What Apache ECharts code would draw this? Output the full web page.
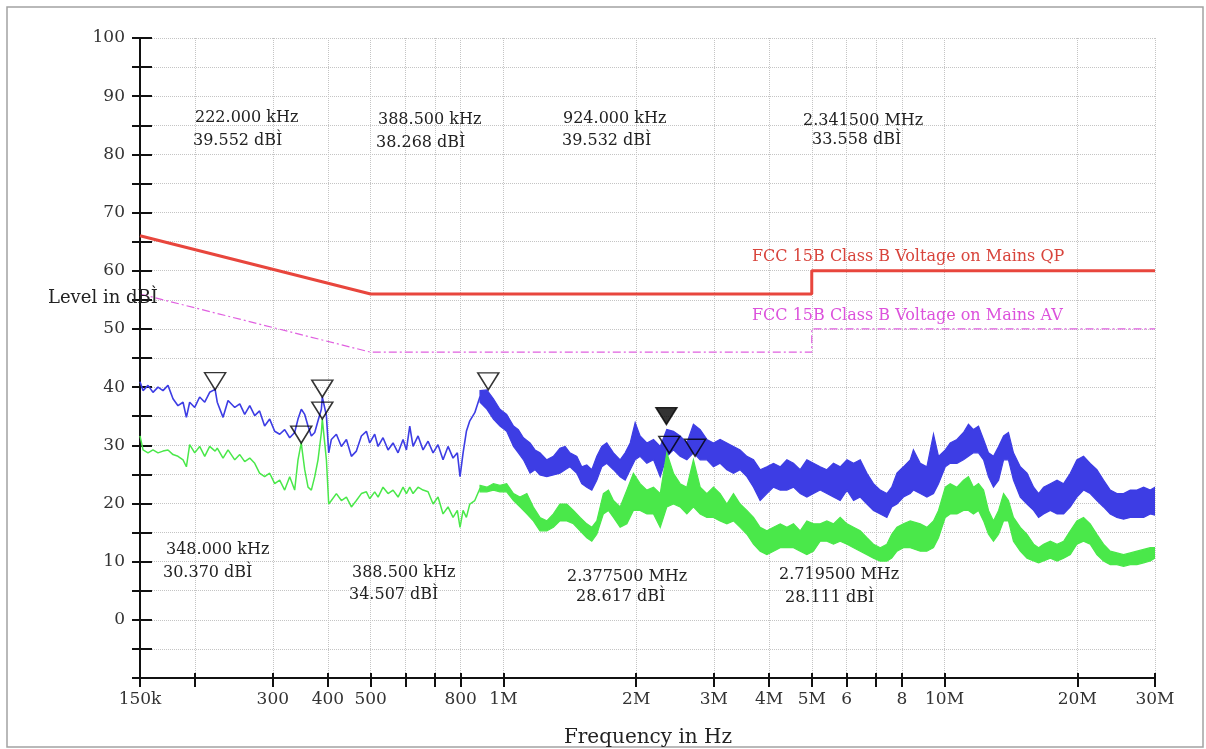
<!DOCTYPE html>
<html><head><meta charset="utf-8">
<script src="https://cdn.jsdelivr.net/npm/echarts@6/dist/echarts.min.js"></script>
<style>html,body{margin:0;padding:0;background:#fff}#c{width:1206px;height:749px}</style>
</head><body><div id="c"></div>
<script>
// ---------- axis ticks ----------
const xTickVals = [0.15,0.2,0.3,0.4,0.5,0.6,0.7,0.8,1,2,3,4,5,6,7,8,10,20,30];
const xLabelVals = [0.15,0.3,0.4,0.5,0.8,1,2,3,4,5,6,8,10,20,30];
const xLabelText = ['150k','300','400','500','800','1M','2M','3M','4M','5M','6','8','10M','20M','30M'];

// ---------- limit lines (frequency in MHz, level in dB) ----------
const qpF = [0.15,0.5,5,5,30];
const qpV = [66,56,56,60,60];
const avF = [0.15,0.5,5,5,30];
const avV = [56,46,46,50,50];

// ---------- blue trace (peak), low-frequency part ----------
const blueLineF = [0.150,0.1524,0.1564,0.1605,0.1648,0.1691,0.1736,0.1782,0.1829,0.1878,0.1911,0.1944,0.1996,0.2048,0.2103,0.2158,0.2220,0.2245,0.2314,0.2375,0.2460,0.2525,0.2591,0.2660,0.2730,0.2800,0.2875,0.2952,0.3030,0.3110,0.3192,0.3277,0.3363,0.3422,0.3482,0.3544,0.3606,0.3669,0.3734,0.3799,0.3866,0.3885,0.3969,0.4017,0.4073,0.4181,0.4292,0.4406,0.4522,0.4641,0.4764,0.4890,0.4976,0.5107,0.5198,0.5334,0.5476,0.5620,0.5769,0.5922,0.6026,0.6132,0.6239,0.6404,0.6573,0.6748,0.6926,0.7108,0.7296,0.7489,0.7688,0.7862,0.7973,0.8101,0.8242,0.8390,0.8611,0.8850];
const blueLineV = [40.9,39.4,40.3,39.1,40.0,39.4,40.3,38.0,36.8,37.4,34.8,37.4,36.5,38.3,37.4,39.1,39.6,37.4,34.8,37.7,36.5,37.1,35.3,36.8,35.1,35.9,33.3,34.5,32.4,31.9,32.7,31.3,32.2,34.5,36.2,35.3,33.3,31.6,32.2,34.2,36.2,38.3,35.1,28.7,31.0,31.9,29.8,31.0,28.1,29.0,31.6,32.4,30.4,31.9,29.8,31.3,29.2,30.4,28.7,31.0,29.2,33.3,29.8,31.6,29.2,30.7,28.7,30.1,27.5,29.8,27.8,28.7,24.6,28.7,32.4,34.2,35.6,38.4];

// ---------- blue trace, high-frequency part (upper / lower edge of the noise band) ----------
const blueBandF = [0.885,0.917,0.949,0.982,1.017,1.054,1.081,1.110,1.149,1.179,1.210,1.254,1.298,1.343,1.380,1.415,1.467,1.505,1.545,1.586,1.628,1.671,1.715,1.776,1.839,1.888,1.938,1.989,2.041,2.114,2.189,2.267,2.346,2.429,2.515,2.605,2.696,2.793,2.892,2.993,3.099,3.210,3.323,3.441,3.564,3.689,3.819,3.956,4.095,4.241,4.391,4.545,4.707,4.874,5.046,5.225,5.41,5.60,5.80,6.01,6.22,6.44,6.67,6.90,7.15,7.40,7.59,7.80,8.07,8.36,8.50,8.81,9.12,9.44,9.69,10.04,10.30,10.67,11.04,11.33,11.63,11.94,12.26,12.58,12.91,13.26,13.61,13.96,14.33,14.85,15.38,15.92,16.34,16.77,17.37,17.99,18.62,19.28,19.95,20.66,21.39,22.15,22.93,23.75,24.59,25.46,26.37,27.30,28.27,29.27,30.0];
const blueBandHi = [39.4,39.5,38.0,36.2,35.3,33.3,32.7,31.3,30.4,29.2,28.7,27.5,28.1,29.5,29.8,28.7,28.1,26.3,26.6,25.8,28.1,29.8,30.4,28.7,27.5,28.7,30.4,33.9,31.6,30.4,31.0,29.8,32.7,32.4,31.6,30.4,33.6,32.7,31.0,30.4,31.0,30.4,29.8,29.2,28.1,27.5,25.8,26.3,26.9,26.3,27.5,26.9,25.8,27.5,26.9,26.3,25.8,26.9,26.3,27.5,26.9,27.5,25.2,23.4,22.3,21.7,22.8,25.2,26.3,27.5,29.2,26.9,26.3,31.9,28.1,29.2,30.4,31.0,32.2,33.6,32.7,33.3,31.0,28.7,28.1,29.8,31.6,32.2,28.7,26.3,25.2,22.8,21.7,22.8,23.4,24.0,23.4,25.2,27.5,28.1,26.9,25.8,24.0,22.3,21.7,21.7,22.3,22.3,22.8,22.3,22.8];
const blueBandLo = [37.4,36.2,34.5,33.3,32.4,29.8,28.7,27.5,25.2,25.8,24.9,24.6,24.9,25.2,25.8,26.3,25.2,23.4,22.8,22.3,24.0,26.3,26.9,25.8,24.6,24.0,25.8,27.5,28.1,26.9,27.5,24.6,28.1,29.2,28.1,27.5,28.7,27.5,27.5,26.3,26.9,25.8,25.2,25.8,24.6,22.8,20.5,21.7,22.8,22.3,22.3,22.8,21.7,21.1,21.7,22.3,21.7,21.1,20.5,22.3,20.5,21.1,19.9,18.8,18.2,17.6,19.4,19.9,21.1,21.7,22.3,21.7,21.1,21.7,23.4,26.3,26.9,26.9,27.5,28.1,28.7,28.7,27.5,24.6,22.8,24.0,27.5,27.5,24.0,21.1,19.9,18.8,17.6,18.2,18.8,18.2,18.2,19.4,21.1,22.3,21.7,20.5,19.4,18.2,17.6,17.3,17.6,17.6,17.6,18.2,18.0];

// ---------- green trace (average), low-frequency part ----------
const greenLineF = [0.150,0.1524,0.1564,0.1605,0.1648,0.1691,0.1736,0.1782,0.1829,0.1878,0.1911,0.1944,0.1996,0.2048,0.2103,0.2158,0.2220,0.2245,0.2314,0.2375,0.2460,0.2525,0.2591,0.2660,0.2730,0.2800,0.2875,0.2952,0.3030,0.3110,0.3192,0.3277,0.3363,0.3422,0.3480,0.3544,0.3606,0.3669,0.3734,0.3799,0.3866,0.3885,0.3969,0.4017,0.4073,0.4181,0.4292,0.4406,0.4522,0.4641,0.4764,0.4890,0.4976,0.5107,0.5198,0.5334,0.5476,0.5620,0.5769,0.5922,0.6026,0.6132,0.6239,0.6404,0.6573,0.6748,0.6926,0.7108,0.7296,0.7489,0.7688,0.7862,0.7973,0.8101,0.8242,0.8390,0.8611,0.8850];
const greenLineV = [31.6,29.2,28.7,29.2,28.7,29.0,29.2,28.4,28.1,27.5,26.3,30.1,28.7,29.8,28.1,29.8,29.0,29.5,27.8,29.2,27.5,28.4,27.2,27.8,26.9,25.2,24.6,25.2,23.4,24.0,22.3,24.6,22.3,27.5,30.4,25.8,22.8,22.3,24.6,27.5,32.2,34.5,27.5,19.9,20.5,21.7,20.5,21.1,19.4,20.5,21.7,22.0,20.8,22.0,21.1,22.8,21.7,22.3,21.1,22.8,21.7,22.8,21.7,22.8,22.3,22.0,19.9,21.1,18.2,19.4,17.6,18.8,15.9,18.8,17.6,19.9,20.5,22.6];

// ---------- green trace, high-frequency part ----------
const greenBandF = [0.885,0.917,0.949,0.982,1.017,1.054,1.090,1.130,1.169,1.210,1.254,1.298,1.343,1.392,1.441,1.492,1.545,1.586,1.628,1.685,1.730,1.776,1.839,1.905,1.971,2.041,2.114,2.189,2.267,2.346,2.429,2.515,2.605,2.696,2.793,2.892,2.993,3.099,3.210,3.323,3.441,3.564,3.689,3.819,3.956,4.095,4.241,4.391,4.545,4.707,4.874,5.046,5.225,5.41,5.60,5.80,6.01,6.22,6.44,6.67,6.90,7.15,7.40,7.59,7.80,8.07,8.36,8.81,9.12,9.44,9.69,10.04,10.30,10.67,11.04,11.33,11.63,11.94,12.26,12.58,12.91,13.26,13.61,13.96,14.33,14.85,15.38,15.92,16.34,16.77,17.37,17.99,18.62,19.28,19.95,20.66,21.39,22.15,22.93,23.75,24.59,25.46,26.37,27.30,28.27,29.27,30.0];
const greenBandHi = [23.1,22.8,23.4,23.1,23.4,21.7,21.1,21.7,19.4,17.6,17.0,18.2,19.9,19.9,18.8,17.6,16.5,15.9,17.0,21.7,22.3,20.5,19.4,22.3,25.2,23.4,22.3,22.8,21.7,28.7,25.2,23.4,22.8,27.5,22.8,21.7,22.8,21.7,19.9,21.7,19.9,18.8,17.6,15.9,15.3,15.9,16.5,15.9,16.5,15.3,17.0,16.5,16.5,17.0,16.5,17.6,16.5,15.9,15.3,14.1,13.0,12.4,13.0,14.7,15.9,16.5,17.0,16.5,15.9,17.0,18.8,22.8,23.4,22.8,24.0,24.6,22.8,23.4,22.3,18.8,17.0,18.8,21.7,20.5,17.6,15.9,14.7,13.0,12.4,13.0,13.5,13.0,13.5,15.3,17.0,17.6,16.5,14.7,13.0,11.8,11.5,11.2,11.5,11.8,12.1,12.4,12.4];
const greenBandLo = [22.0,22.0,22.3,22.0,22.0,20.5,19.4,18.2,17.0,15.3,15.3,15.9,17.0,17.0,16.5,15.3,14.1,13.5,14.7,18.2,18.8,17.6,15.9,16.5,18.8,18.8,18.2,18.2,15.9,19.4,19.9,19.4,18.2,19.4,18.2,17.6,17.6,17.0,16.5,17.0,15.9,14.7,13.0,11.8,11.2,11.8,12.4,12.4,12.4,11.8,11.2,11.8,13.5,13.5,13.0,13.5,13.0,12.4,11.8,11.2,10.6,10.1,10.1,10.6,11.8,12.4,12.4,11.8,11.8,12.4,14.1,17.6,18.2,18.2,18.8,18.8,18.2,18.8,17.0,14.7,13.5,14.7,17.0,17.0,13.5,11.8,10.6,10.1,9.8,10.1,10.6,10.1,10.6,11.2,13.0,13.5,13.0,11.2,10.1,9.5,9.5,9.2,9.5,9.5,9.8,10.1,10.6];

// ---------- markers ----------
const markerF = [0.222,0.3885,0.348,0.3885,0.924,2.3415,2.3775,2.7195];
const markerV = [39.552,38.268,30.370,34.507,39.532,33.558,28.617,28.111];
const markerFilled = [0,0,0,0,0,1,0,0];

// ---------- marker read-outs ----------
const noteFreq = ['222.000 kHz','388.500 kHz','924.000 kHz','2.341500 MHz','348.000 kHz','388.500 kHz','2.377500 MHz','2.719500 MHz'];
const noteLevel = ['39.552 dBÌ','38.268 dBÌ','39.532 dBÌ','33.558 dBÌ','30.370 dBÌ','34.507 dBÌ','28.617 dBÌ','28.111 dBÌ'];
const limitNames = ['FCC 15B Class B Voltage on Mains QP','FCC 15B Class B Voltage on Mains AV'];
const yName = 'Level in dBÌ';
const xName = 'Frequency in Hz';

// ---------- build ----------
const zip = (a, b) => a.slice(0, Math.min(a.length, b.length)).map((x, i) => [x, b[i]]);
const FONT = '"DejaVu Serif", "Liberation Serif", serif';
const BLUE = '#3d3de4';
const GREEN = '#4ae84a';

// noise band: polygon between the upper and the lower edge, placed through the axes' scales
function band(name, f, hi, lo, color, z) {
  const n = Math.min(f.length, hi.length, lo.length);
  const data = [];
  for (let i = 0; i < n; i++) data.push([f[i], hi[i], lo[i]]);
  return {
    type:'custom', name:name, data:data, encode:{x:0, y:[1,2]}, z:z, clip:true, silent:true,
    renderItem: function (params, api) {
      if (params.dataIndexInside !== 0) return null;
      const len = params.dataInsideLength;
      const pts = [];
      for (let j = 0; j < len; j++) pts.push(api.coord([api.value(0, j), api.value(1, j)]));
      for (let j = len - 1; j >= 0; j--) pts.push(api.coord([api.value(0, j), api.value(2, j)]));
      return {type:'polygon', shape:{points:pts}, style:{fill:color, stroke:color, lineWidth:1.2, lineJoin:'miter'}};
    }
  };
}

function xFmt(v) {
  let best = 0;
  for (let i = 1; i < xLabelVals.length; i++) {
    if (Math.abs(Math.log(v / xLabelVals[i])) < Math.abs(Math.log(v / xLabelVals[best]))) best = i;
  }
  return xLabelText[best];
}

const markerData = markerF.map((f, i) => ({
  value: [f, markerV[i]],
  itemStyle: {color: markerFilled[i] ? '#000' : 'rgba(255,255,255,0)', borderColor:'#000', borderWidth:1.5}
}));

const notePos = [
  [195,118,193,141],[378,120,376,143],[563,119,562,141],[803,121,812,140],
  [166,550,163,573],[352,573,349,595],[567,577,576,597],[779,575,785,598]
];
const graphics = [
  {type:'rect', shape:{x:7,y:7,width:1196,height:740}, style:{fill:'none', stroke:'#a3a3a3', lineWidth:1.5}, z:0, silent:true}
];
function txt(x, y, t, size, fill, align) {
  return {type:'text', x:x, y:y, z:50, silent:true,
    style:{text:t, font:size+'px '+FONT, fill:fill, align:align, verticalAlign:'middle', textAlign:align, textVerticalAlign:'middle'}};
}
noteFreq.forEach((t, i) => {
  const p = notePos[i];
  graphics.push(txt(p[0], p[1], t, 16, '#222', 'left'));
  graphics.push(txt(p[2], p[3], noteLevel[i], 16, '#222', 'left'));
});
graphics.push(txt(752, 257, limitNames[0], 16, '#d8443c', 'left'));
graphics.push(txt(752, 316, limitNames[1], 16, '#dc52dc', 'left'));
graphics.push(txt(48, 298, yName, 18, '#222', 'left'));
graphics.push(txt(648, 738, xName, 20, '#222', 'center'));

const gridLine = {show:true, lineStyle:{color:'#c4c4c4', type:'dotted', width:1}};
const AX = '#111';

const option = {
  animation: false,
  backgroundColor: '#fff',
  grid: {left:140, right:51, top:38, bottom:71, containLabel:false},
  xAxis: [
    {type:'log', logBase:10, min:0.15, max:30, position:'bottom',
     axisLine:{show:true, onZero:false, lineStyle:{color:AX, width:2}},
     axisTick:{show:true, length:9, customValues:xTickVals, lineStyle:{color:AX, width:2}},
     axisLabel:{show:true, customValues:xLabelVals, formatter:xFmt, margin:13, fontFamily:FONT, fontSize:17, color:'#333'},
     splitLine:gridLine, minorTick:{show:false}, minorSplitLine:{show:false}},
    {type:'log', logBase:10, min:0.15, max:30, position:'bottom',
     axisLine:{show:false, onZero:false},
     axisTick:{show:true, inside:true, length:5, customValues:xTickVals, lineStyle:{color:AX, width:2}},
     axisLabel:{show:false}, splitLine:{show:false}}
  ],
  yAxis: [
    {type:'value', min:-10, max:100, interval:5, position:'left',
     axisLine:{show:true, onZero:false, lineStyle:{color:AX, width:2}},
     axisTick:{show:true, length:8, lineStyle:{color:AX, width:2}},
     axisLabel:{formatter: v => (v >= 0 && v % 10 === 0) ? String(v) : '', margin:15, fontFamily:FONT, fontSize:17, color:'#333'},
     splitLine:gridLine},
    {type:'value', min:-10, max:100, interval:5, position:'left',
     axisLine:{show:false, onZero:false},
     axisTick:{show:true, inside:true, length:12, lineStyle:{color:AX, width:2}},
     axisLabel:{show:false}, splitLine:{show:false}}
  ],
  graphic: graphics,
  series: [
    {type:'line', name:'QP limit', data:zip(qpF, qpV), symbol:'none', lineStyle:{color:'#e8463d', width:3}, z:3},
    {type:'line', name:'AV limit', data:zip(avF, avV), symbol:'none', lineStyle:{color:'#e060e0', width:1.2, type:[8,3,2,3]}, z:3},
    {type:'line', name:'blue', data:zip(blueLineF, blueLineV), symbol:'none', lineStyle:{color:BLUE, width:1.6}, z:4},
    band('blueBand', blueBandF, blueBandHi, blueBandLo, BLUE, 4),
    {type:'line', name:'green', data:zip(greenLineF, greenLineV), symbol:'none', lineStyle:{color:GREEN, width:1.5}, z:5},
    band('greenBand', greenBandF, greenBandHi, greenBandLo, GREEN, 5),
    {type:'scatter', name:'markers', data:markerData, symbol:'path://M0 0L20 0L10 16Z', symbolSize:[21,17], symbolOffset:[0,'-50%'], z:10}
  ]
};
const chart = echarts.init(document.getElementById('c'), null, {renderer:'canvas'});
chart.setOption(option);
</script>
</body></html>
